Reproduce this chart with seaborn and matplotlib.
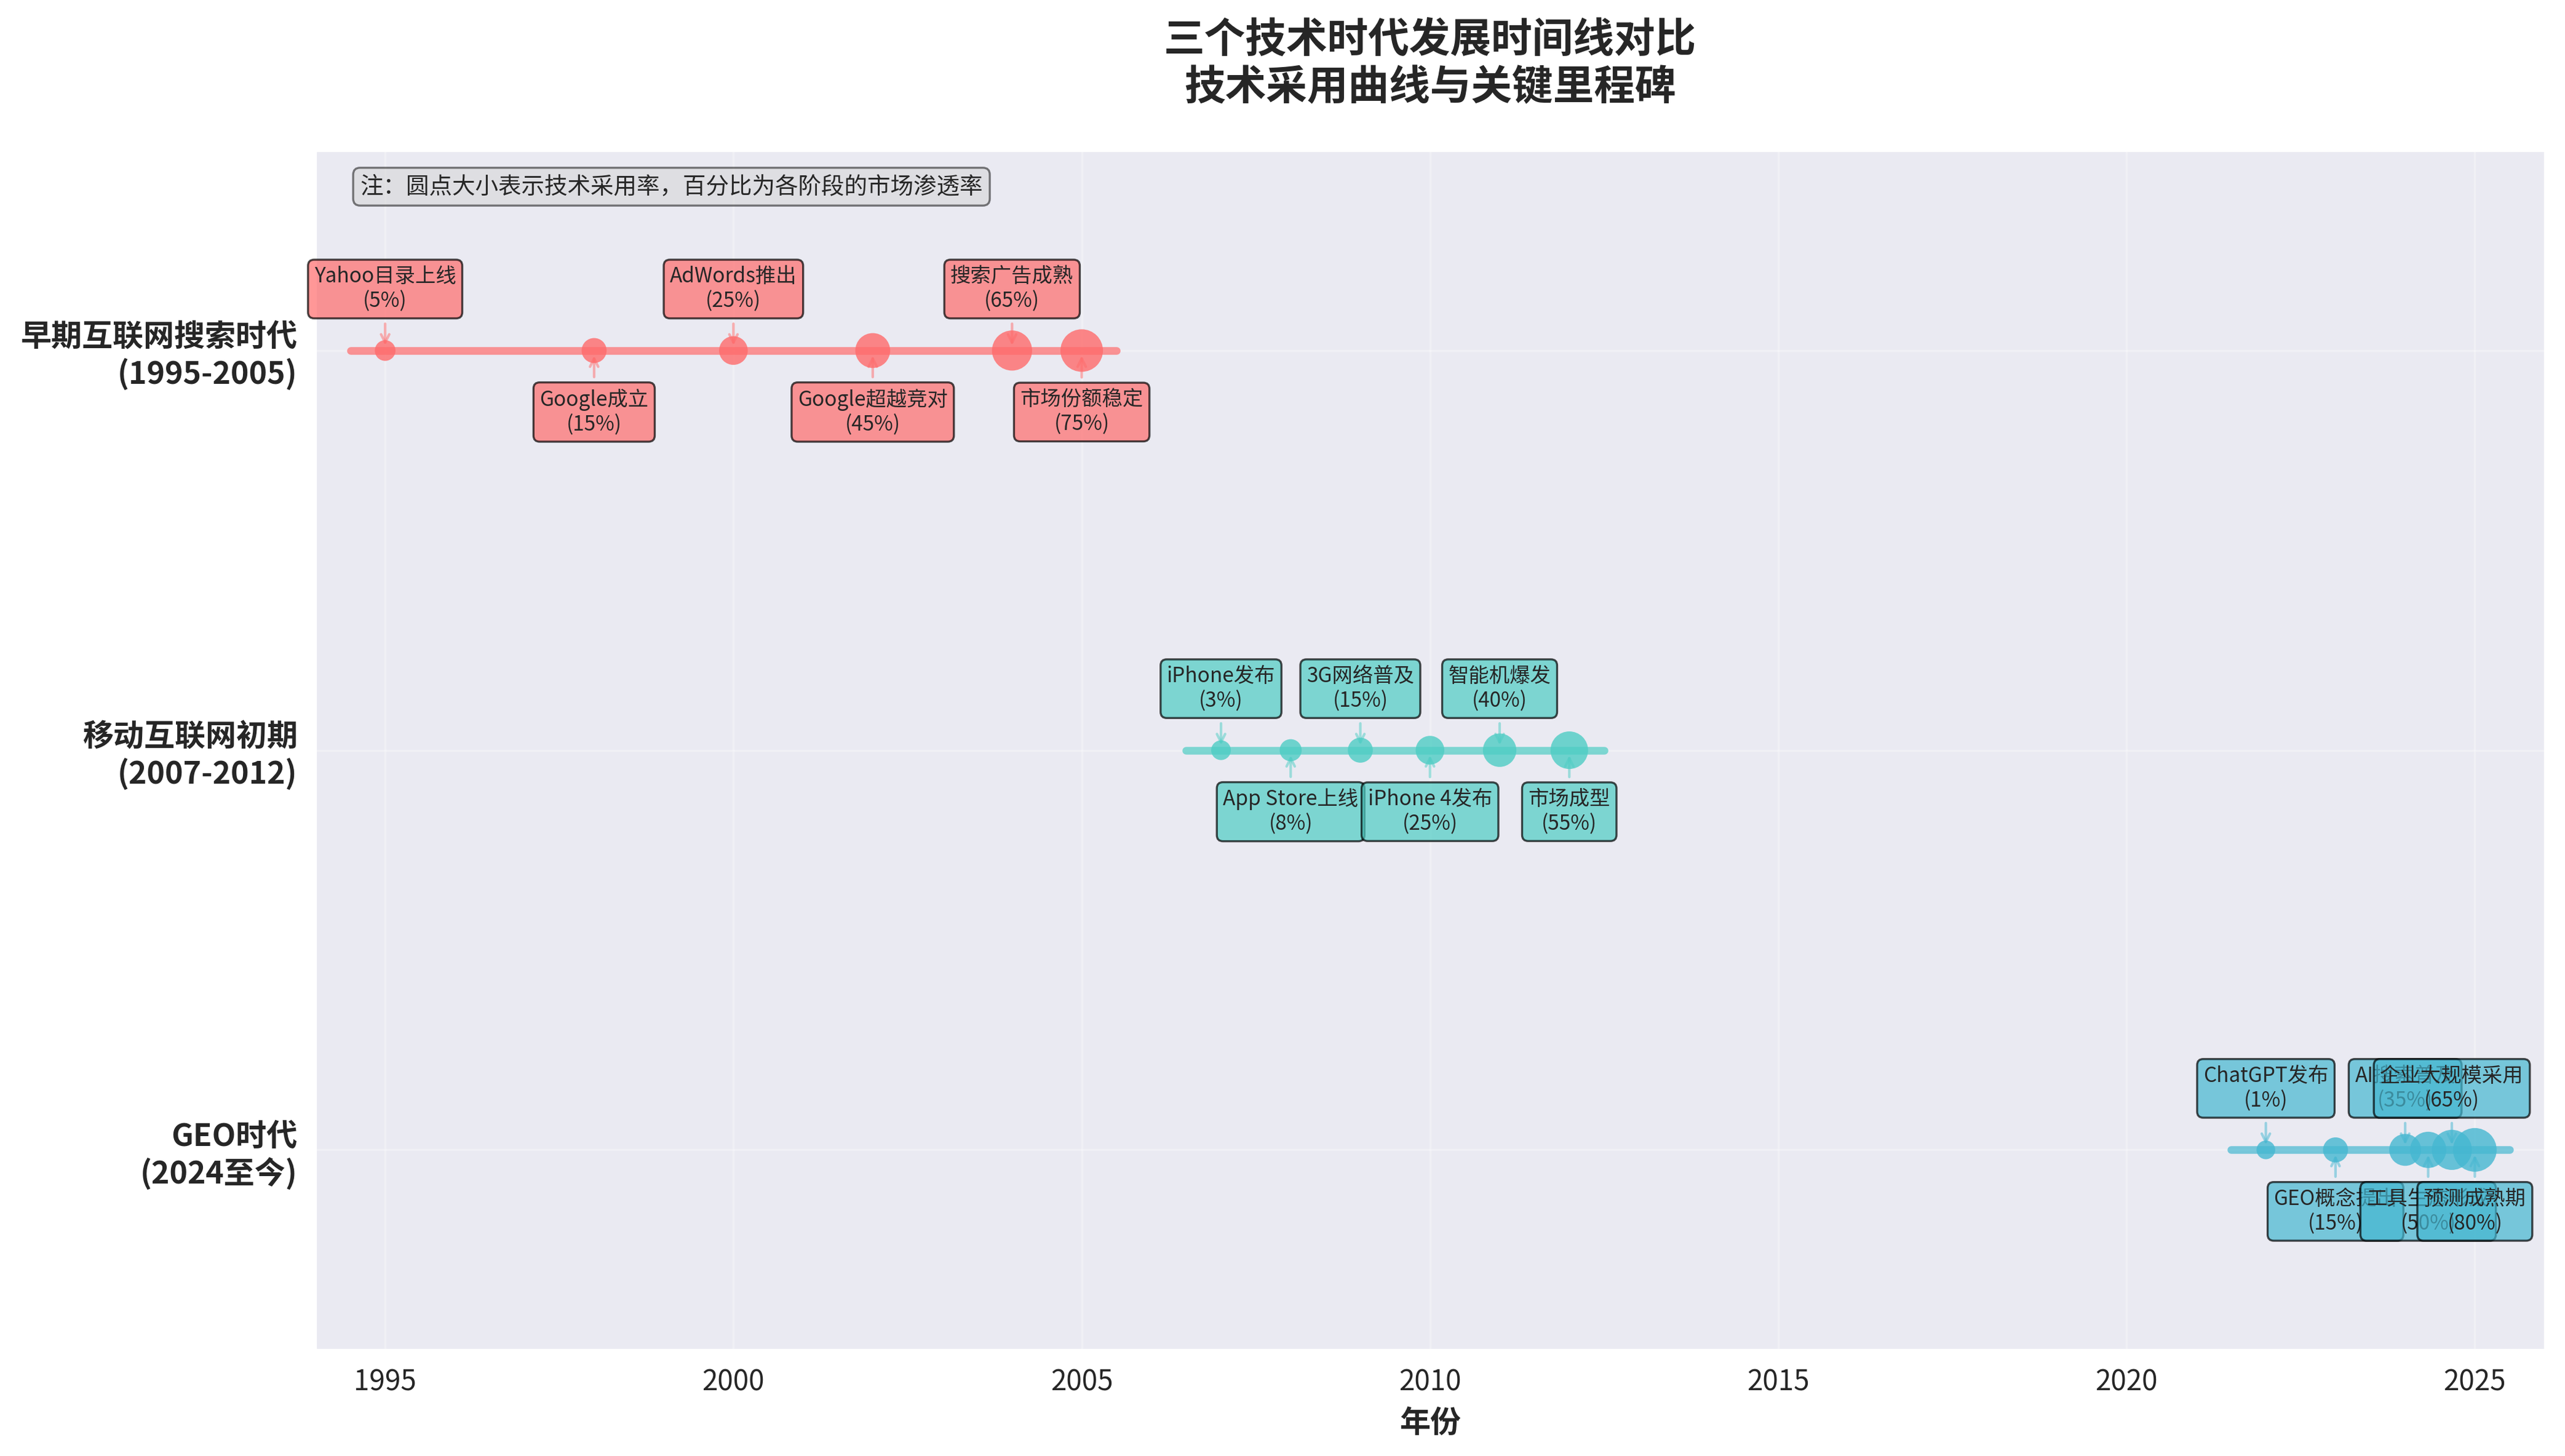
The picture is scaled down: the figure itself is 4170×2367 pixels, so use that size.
import matplotlib
matplotlib.use('Agg')
import matplotlib.pyplot as plt
import seaborn as sns

sns.set_style('darkgrid')
plt.rcParams['font.family'] = ['Noto Sans CJK SC', 'DejaVu Sans']
plt.rcParams['axes.unicode_minus'] = False

# 三个时代
eras = ['早期互联网搜索时代\n(1995-2005)', '移动互联网初期\n(2007-2012)', 'GEO时代\n(2024至今)']
era_colors = ['#FF6B6B', '#4ECDC4', '#45B7D1']

early_years = [1995, 1998, 2000, 2002, 2004, 2005]
early_events = ['Yahoo目录上线', 'Google成立', 'AdWords推出', 'Google超越竞对', '搜索广告成熟', '市场份额稳定']
early_rates = [5, 15, 25, 45, 65, 75]

mobile_years = [2007, 2008, 2009, 2010, 2011, 2012]
mobile_events = ['iPhone发布', 'App Store上线', '3G网络普及', 'iPhone 4发布', '智能机爆发', '市场成型']
mobile_rates = [3, 8, 15, 25, 40, 55]

geo_years = [2022, 2023, 2024, 2024.33, 2024.67, 2025]
geo_events = ['ChatGPT发布', 'GEO概念提出', 'AI搜索普及', '工具生态形成', '企业大规模采用', '预测成熟期']
geo_rates = [1, 15, 35, 50, 65, 80]

all_years = [early_years, mobile_years, geo_years]
all_events = [early_events, mobile_events, geo_events]
all_rates = [early_rates, mobile_rates, geo_rates]
era_y = [2, 1, 0]

fig, ax = plt.subplots(figsize=(13.9, 7.89), dpi=300)

for k in range(3):
    years = all_years[k]
    events = all_events[k]
    rates = all_rates[k]
    color = era_colors[k]
    y = era_y[k]

    # 时间轴
    ax.plot([min(years) - 0.5, max(years) + 0.5], [y, y], color=color,
            linewidth=3, alpha=0.7, solid_capstyle='round', zorder=2)

    # 圆点大小 = 采用率
    sns.scatterplot(x=years, y=[y] * len(years), size=rates, sizes=(50, 350),
                    size_norm=(0, 100), color=color, alpha=0.8, linewidth=0,
                    legend=False, ax=ax, zorder=3)

    for i, (yr, ev, r) in enumerate(zip(years, events, rates)):
        off = 24 if i % 2 == 0 else -24
        ax.annotate(f'{ev}\n({r}%)', xy=(yr, y), xytext=(0, off),
                    textcoords='offset points', ha='center', va='center',
                    fontsize=8,
                    bbox=dict(boxstyle='round,pad=0.3', facecolor=color,
                              edgecolor='black', linewidth=0.8, alpha=0.7),
                    arrowprops=dict(arrowstyle='->', color=color, alpha=0.5, lw=1),
                    zorder=4)

ax.set_yticks(era_y)
ax.set_yticklabels(eras, fontsize=12, fontweight='bold')
ax.set_ylim(-0.5, 2.5)
ax.set_xlim(1994, 2026)
ax.tick_params(axis='x', labelsize=11)
ax.set_xlabel('年份', fontsize=12, fontweight='bold')
ax.set_title('三个技术时代发展时间线对比\n技术采用曲线与关键里程碑',
             fontsize=16, fontweight='bold', pad=20)
ax.grid(True, alpha=0.3)

ax.text(0.02, 0.98, '注：圆点大小表示技术采用率，百分比为各阶段的市场渗透率',
        transform=ax.transAxes, fontsize=9, va='top',
        bbox=dict(boxstyle='round', facecolor='lightgray', edgecolor='black',
                  linewidth=0.8, alpha=0.5))

plt.subplots_adjust(left=0.123, right=0.992, top=0.8965, bottom=0.073)
plt.savefig('out.png', dpi=300)
